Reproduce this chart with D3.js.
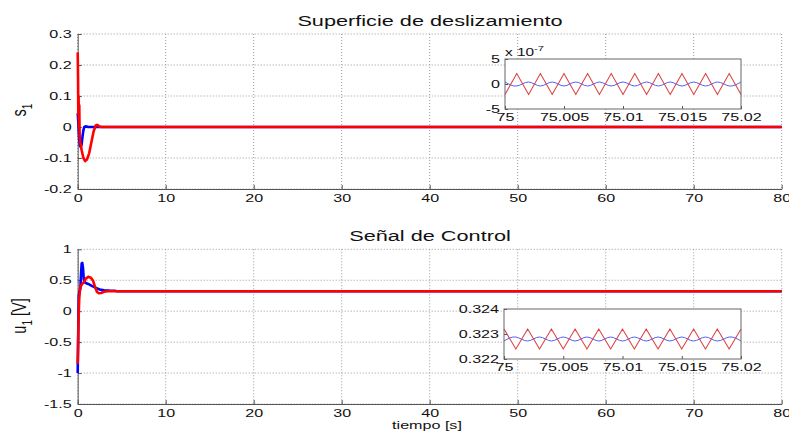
<!DOCTYPE html>
<html>
<head>
<meta charset="utf-8">
<script src="https://cdn.jsdelivr.net/npm/d3@7"></script>
<style>
  body { margin: 0; background: #fff; }
  svg { display: block; font-family: "Liberation Sans", Arial, sans-serif; }
</style>
</head>
<body>
<svg id="fig" width="789" height="432"></svg>
<script>
// tick labels
const xTicks = [0, 10, 20, 30, 40, 50, 60, 70, 80];
const sTicks = [-0.2, -0.1, 0, 0.1, 0.2, 0.3];
const uTicks = [-1.5, -1, -0.5, 0, 0.5, 1];
const zoomTicks = [75, 75.005, 75.01, 75.015, 75.02];
const sZoomTicks = [-5, 0, 5];
const uZoomTicks = [0.322, 0.323, 0.324];

// s1, [t, value]
const s1Blue = [[0,0.045],[0.08,0.01],[0.15,-0.03],[0.25,-0.06],[0.35,-0.065],[0.45,-0.055],[0.55,-0.03],[0.65,-0.01],[0.75,0],[0.9,0.002],[1.2,0],[80,0]];
const s1Red = [[0,0.24],[0.04,0.16],[0.07,0.04],[0.1,0.1],[0.14,0.0],[0.18,0.07],[0.22,-0.03],[0.3,-0.05],[0.45,-0.075],[0.65,-0.1],[0.85,-0.11],[1.05,-0.105],[1.3,-0.085],[1.55,-0.05],[1.8,-0.015],[2.05,0.005],[2.2,0.007],[2.45,0.002],[2.7,0],[80,0]];

// u1, [t, value]
const u1Blue = [[0,-1.0],[0.04,-0.6],[0.08,-0.1],[0.12,0.25],[0.2,0.32],[0.3,0.36],[0.38,0.6],[0.45,0.77],[0.52,0.78],[0.6,0.7],[0.7,0.5],[0.85,0.46],[1.2,0.44],[1.6,0.41],[2.0,0.38],[2.5,0.35],[3.0,0.337],[3.6,0.332],[4.2,0.329],[4.5,0.323],[80,0.323]];
const u1Red = [[0,-0.85],[0.05,-0.5],[0.1,-0.1],[0.18,0.22],[0.28,0.38],[0.45,0.43],[0.7,0.47],[0.95,0.53],[1.2,0.555],[1.5,0.54],[1.75,0.49],[2.0,0.38],[2.2,0.31],[2.4,0.29],[2.65,0.295],[3.0,0.315],[3.4,0.323],[80,0.323]];

// zoomed windows (t from 75 to 75.02)
const zoomT = [75,75.001,75.002,75.003,75.004,75.005,75.006,75.007,75.008,75.009,75.01,75.011,75.012,75.013,75.014,75.015,75.016,75.017,75.018,75.019,75.02];
const sZoomRed = [-2.1,2.1,-2.1,2.1,-2.1,2.1,-2.1,2.1,-2.1,2.1,-2.1,2.1,-2.1,2.1,-2.1,2.1,-2.1,2.1,-2.1,2.1,-2.1];
const sZoomBlue = [0.4,-0.4,0.4,-0.4,0.4,-0.4,0.4,-0.4,0.4,-0.4,0.4,-0.4,0.4,-0.4,0.4,-0.4,0.4,-0.4,0.4,-0.4,0.4];
const uZoomRed = [0.3232,0.3224,0.3232,0.3224,0.3232,0.3224,0.3232,0.3224,0.3232,0.3224,0.3232,0.3224,0.3232,0.3224,0.3232,0.3224,0.3232,0.3224,0.3232,0.3224,0.3232];
const uZoomBlue = [0.32272,0.32288,0.32272,0.32288,0.32272,0.32288,0.32272,0.32288,0.32272,0.32288,0.32272,0.32288,0.32272,0.32288,0.32272,0.32288,0.32272,0.32288,0.32272,0.32288,0.32272];

const SX = 1.4; // picture is stretched sideways
const svg = d3.select("#fig");
const axisCol = "#555";
const gridCol = "#999";

function squash(textSel, anchorX) {
  textSel.attr("transform", `scale(${SX},1)`).attr("x", anchorX / SX);
}

function mainPanel(y0, y1, ydom, yticks, blue, red, title, titleY) {
  const x = d3.scaleLinear().domain([0, 80]).range([77.7, 781.7]);
  const y = d3.scaleLinear().domain(ydom).range([y1, y0]);
  const g = svg.append("g");

  // grid
  g.selectAll(".gx").data(xTicks).join("line")
    .attr("x1", d => x(d)).attr("x2", d => x(d)).attr("y1", y0).attr("y2", y1)
    .attr("stroke", gridCol).attr("stroke-dasharray", "1,2");
  g.selectAll(".gy").data(yticks).join("line")
    .attr("x1", x(0)).attr("x2", x(80)).attr("y1", d => y(d)).attr("y2", d => y(d))
    .attr("stroke", gridCol).attr("stroke-dasharray", "1,2");

  const ax = g.append("g").attr("transform", `translate(0,${y1})`)
    .call(d3.axisBottom(x).tickValues(xTicks).tickFormat(String).tickSizeInner(-4).tickSizeOuter(0).tickPadding(5));
  const ay = g.append("g").attr("transform", `translate(${x(0)},0)`)
    .call(d3.axisLeft(y).tickValues(yticks).tickFormat(String).tickSizeInner(-4).tickSizeOuter(0).tickPadding(6));
  [ax, ay].forEach(a => {
    a.select(".domain").attr("stroke", axisCol);
    a.selectAll(".tick line").attr("stroke", axisCol);
    a.selectAll("text").attr("font-size", 11.5).attr("fill", "#111")
      .attr("font-family", "Liberation Sans, Arial, sans-serif");
  });
  squash(ax.selectAll("text"), 0);
  squash(ay.selectAll("text"), -6);

  const line = d3.line().x(d => x(d[0])).y(d => y(d[1]));
  g.append("path").datum(blue).attr("d", line).attr("fill", "none")
    .attr("stroke", "#0000ff").attr("stroke-width", 2.6).attr("stroke-linejoin", "round");
  g.append("path").datum(red).attr("d", line).attr("fill", "none")
    .attr("stroke", "#ff0000").attr("stroke-width", 2.6).attr("stroke-linejoin", "round");

  g.append("text").attr("transform", `translate(430,${titleY}) scale(${SX},1)`)
    .attr("text-anchor", "middle").attr("font-size", 15.5).attr("fill", "#111").text(title);
  return { x, y, g };
}

function zoomPanel(x0, x1, y0, y1, ydom, yticks, blue, red, curve) {
  const x = d3.scaleLinear().domain([75, 75.02]).range([x0, x1]);
  const y = d3.scaleLinear().domain(ydom).range([y1, y0]);
  const g = svg.append("g");
  g.append("rect").attr("x", x0).attr("y", y0).attr("width", x1 - x0).attr("height", y1 - y0)
    .attr("fill", "#fff");

  const line = d3.line().x((d, i) => x(zoomT[i])).y(d => y(d));
  g.append("path").datum(blue).attr("d", line.curve(curve)).attr("fill", "none")
    .attr("stroke", "#5560ee").attr("stroke-width", 1);
  g.append("path").datum(red).attr("d", d3.line().x((d, i) => x(zoomT[i])).y(d => y(d))).attr("fill", "none")
    .attr("stroke", "#dd4444").attr("stroke-width", 1.1);

  const ax = g.append("g").attr("transform", `translate(0,${y1})`)
    .call(d3.axisBottom(x).tickValues(zoomTicks).tickFormat(String).tickSizeInner(-3).tickSizeOuter(0).tickPadding(4));
  const ay = g.append("g").attr("transform", `translate(${x0},0)`)
    .call(d3.axisLeft(y).tickValues(yticks).tickFormat(String).tickSizeInner(-3).tickSizeOuter(0).tickPadding(5));
  [ax, ay].forEach(a => {
    a.select(".domain").remove();
    a.selectAll(".tick line").attr("stroke", axisCol);
    a.selectAll("text").attr("font-size", 11.5).attr("fill", "#111")
      .attr("font-family", "Liberation Sans, Arial, sans-serif");
  });
  squash(ax.selectAll("text"), 0);
  squash(ay.selectAll("text"), -5);
  g.append("rect").attr("x", x0).attr("y", y0).attr("width", x1 - x0).attr("height", y1 - y0)
    .attr("fill", "none").attr("stroke", "#666").attr("stroke-width", 1);
  return { x, y, g };
}

mainPanel(34, 189, [-0.2, 0.3], sTicks, s1Blue, s1Red, "Superficie de deslizamiento", 26);
mainPanel(249.3, 404, [-1.5, 1], uTicks, u1Blue, u1Red, "Señal de Control", 241);

zoomPanel(505, 741, 59, 109, [-5, 5], sZoomTicks, sZoomBlue, sZoomRed, d3.curveNatural);
zoomPanel(504, 741, 309, 359, [0.322, 0.324], uZoomTicks, uZoomBlue, uZoomRed, d3.curveNatural);

// exponent label
const ex = svg.append("text").attr("transform", `translate(505,56) scale(${SX},1)`)
  .attr("font-size", 11).attr("fill", "#111");
ex.append("tspan").text("x 10");
ex.append("tspan").attr("font-size", 8).attr("dy", -5).text("-7");

// axis labels
function ylab(cx, cy, main, sub, rest) {
  const t = svg.append("text")
    .attr("transform", `translate(${cx},${cy}) scale(${SX},1) rotate(-90)`)
    .attr("text-anchor", "middle").attr("font-size", 14.5).attr("fill", "#111");
  t.append("tspan").text(main);
  t.append("tspan").attr("font-size", 10).attr("dy", 4).text(sub);
  if (rest) t.append("tspan").attr("dy", -4).text(rest);
}
ylab(26, 110, "s", "1", null);
ylab(26, 316, "u", "1", " [V]");

svg.append("text").attr("transform", `translate(427,429) scale(${SX},1)`)
  .attr("text-anchor", "middle").attr("font-size", 11.5).attr("fill", "#111").text("tiempo [s]");
</script>
</body>
</html>
